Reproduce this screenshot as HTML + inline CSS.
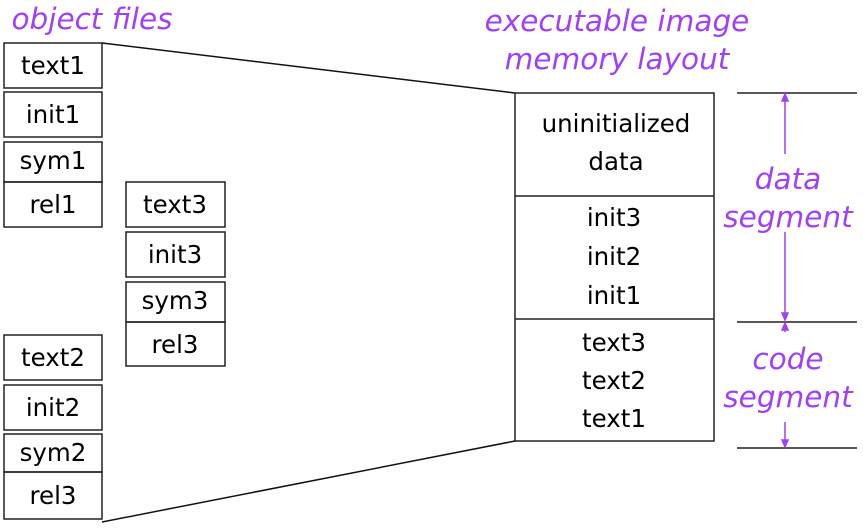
<html><body style="margin:0;background:#fff">
<svg width="863" height="530" xmlns="http://www.w3.org/2000/svg" style="display:block">
<style>
text{font-family:"DejaVu Sans","Liberation Sans",sans-serif;font-size:24.5px;fill:#000;text-anchor:middle}
.p{fill:#a040f8;font-style:italic;font-size:29.5px}
rect{fill:none;stroke:#222;stroke-width:1.5}
</style>
<text class="p" x="92" y="29">object files</text>
<text class="p" x="617" y="31">executable image</text>
<text class="p" x="617" y="69">memory layout</text>
<g>
<rect x="4" y="43" width="98" height="45"/><text x="53" y="74">text1</text>
<rect x="4" y="92" width="98" height="45"/><text x="53" y="123">init1</text>
<rect x="4" y="142" width="98" height="40"/><text x="53" y="169">sym1</text>
<rect x="4" y="182" width="98" height="45"/><text x="53" y="213">rel1</text>
<rect x="126" y="182" width="99" height="45"/><text x="175" y="213">text3</text>
<rect x="126" y="232" width="99" height="45"/><text x="175" y="263">init3</text>
<rect x="126" y="282" width="99" height="40"/><text x="175" y="309">sym3</text>
<rect x="126" y="322" width="99" height="44"/><text x="175" y="353">rel3</text>
<rect x="4" y="335" width="98" height="45"/><text x="53" y="366">text2</text>
<rect x="4" y="385" width="98" height="45"/><text x="53" y="416">init2</text>
<rect x="4" y="434" width="98" height="38"/><text x="53" y="461">sym2</text>
<rect x="4" y="472" width="98" height="47"/><text x="53" y="504">rel3</text>
</g>
<line x1="102" y1="43" x2="515" y2="93" stroke="#111" stroke-width="1.5"/>
<line x1="102" y1="522" x2="515" y2="441" stroke="#111" stroke-width="1.5"/>
<rect x="515" y="93" width="199" height="348"/>
<line x1="515" y1="196" x2="714" y2="196" stroke="#222" stroke-width="1.5"/>
<line x1="515" y1="319" x2="714" y2="319" stroke="#222" stroke-width="1.5"/>
<text x="616" y="132">uninitialized</text><text x="616" y="170">data</text>
<text x="614" y="226">init3</text><text x="614" y="265">init2</text><text x="614" y="304">init1</text>
<text x="614" y="351">text3</text><text x="614" y="389">text2</text><text x="614" y="427">text1</text>
<g stroke="#222" stroke-width="1.5">
<line x1="737" y1="93" x2="857" y2="93"/><line x1="737" y1="322" x2="857" y2="322"/><line x1="737" y1="448" x2="857" y2="448"/>
</g>
<g stroke="#a040f8" stroke-width="1.5" fill="#a040f8">
<line x1="785" y1="95" x2="785" y2="154"/><line x1="785" y1="232" x2="785" y2="320"/>
<line x1="785" y1="324" x2="785" y2="332"/><line x1="785" y1="422" x2="785" y2="446"/>
<path d="M782,101 L785,94 L788,101Z"/><path d="M782,313 L785,320 L788,313Z"/>
<path d="M782,330 L785,323 L788,330Z"/><path d="M782,440 L785,447 L788,440Z"/>
</g>
<text class="p" x="788" y="189">data</text><text class="p" x="788" y="227">segment</text>
<text class="p" x="788" y="369">code</text><text class="p" x="788" y="407">segment</text>
</svg>
</body></html>
